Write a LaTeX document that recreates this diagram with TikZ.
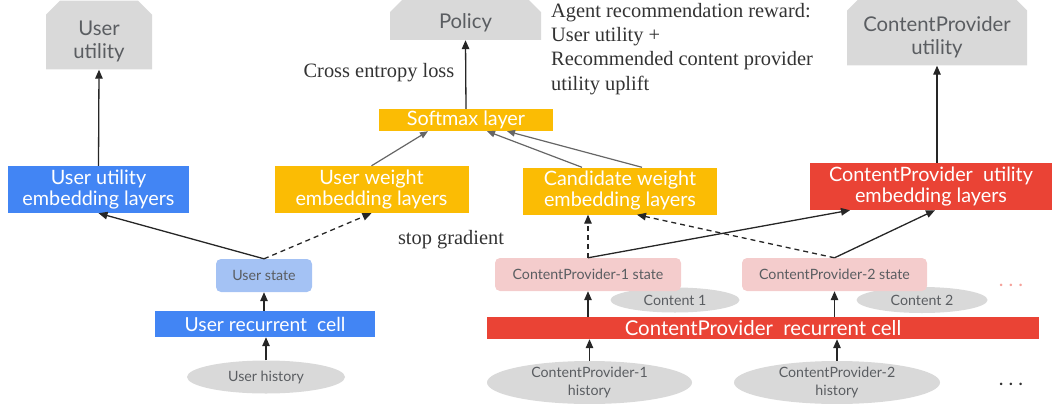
\documentclass[tikz,border=0pt]{standalone}
\usepackage{fontspec}
\setmainfont{Liberation Serif}
\setsansfont{Lato}
\usetikzlibrary{arrows.meta,shapes.geometric,shapes.misc}

\definecolor{boxgray}{HTML}{D9D9D9}
\definecolor{textgray}{HTML}{5A5D61}
\definecolor{gblue}{HTML}{4285F4}
\definecolor{lightblue}{HTML}{A4C2F4}
\definecolor{gyellow}{HTML}{FBBC04}
\definecolor{gred}{HTML}{EA4335}
\definecolor{lightpink}{HTML}{F4CCCC}
\definecolor{notegray}{HTML}{333333}

\tikzset{
	outbox/.style={chamfered rectangle, chamfered rectangle corners={north west,north east},
		chamfered rectangle xsep=6pt, chamfered rectangle ysep=8pt, fill=boxgray, text=textgray,
		inner sep=0pt, align=center, text height=49.5pt, font=\sffamily\fontsize{20.3}{23}\selectfont},
	layer/.style={rectangle, inner sep=0pt, text=white, align=center,
		font=\sffamily\fontsize{19.8}{21}\selectfont},
	statebox/.style={rectangle, rounded corners=5pt, inner sep=0pt, text=textgray,
		font=\sffamily\fontsize{14.2}{17}\selectfont},
	inbox/.style={ellipse, fill=boxgray, inner sep=0pt, text=textgray, align=center,
		font=\sffamily\fontsize{14.2}{17.5}\selectfont},
	note/.style={inner sep=0pt, text=notegray, align=left, font=\fontsize{20.4}{24.3}\selectfont},
	flow/.style={-{Triangle[length=9pt,width=7.5pt]}, line width=1.3pt, black!85},
	stopflow/.style={flow, dash pattern=on 5pt off 4pt},
	mixflow/.style={-{Triangle[length=8pt,width=6.5pt]}, line width=1.2pt, black!60},
}

\begin{document}
\begin{tikzpicture}[x=1pt, y=-1pt]
	%%%%% FRAME %%%%%
	\useasboundingbox (0, 0) rectangle (1055, 407);

	%%%%% OUTPUTS %%%%%
	\node[outbox, minimum width=106pt, minimum height=66pt] (uutil) at (99, 35) {User\\utility};
	\node[outbox, minimum width=151pt, minimum height=34pt, text height=22.5pt] (policy) at (465.5, 19) {Policy};
	\node[outbox, minimum width=180pt, minimum height=58pt] (cputil) at (937, 31) {ContentProvider\\utility};

	\node[note, anchor=north west] (reward) at (551, 3) {Agent recommendation reward:\\User utility +\\Recommended content provider\\utility uplift};
	\node[note] (xent) at (379, 73) {Cross entropy loss};
	\node[note] (stopgrad) at (451, 240) {stop gradient};

	%%%%% LAYERS %%%%%
	\node[layer, fill=gyellow, minimum width=174pt, minimum height=22pt] (softmax) at (466, 120) {Softmax layer};
	\node[layer, fill=gblue, minimum width=181pt, minimum height=47pt] (uemb) at (98.5, 189.5) {User utility\\embedding layers};
	\node[layer, fill=gyellow, minimum width=194pt, minimum height=47pt] (uweight) at (371.5, 189.5) {User weight\\embedding layers};
	\node[layer, fill=gyellow, minimum width=194pt, minimum height=47pt] (cweight) at (620, 191) {Candidate weight\\embedding layers};
	\node[layer, fill=gred, minimum width=242pt, minimum height=47pt] (cpemb) at (931, 186.5) {ContentProvider\ \ utility\\embedding layers};

	%%%%% USER SIDE %%%%%
	\node[statebox, fill=lightblue, minimum width=96pt, minimum height=33pt] (ustate) at (264, 275.5) {User state};
	\node[layer, fill=gblue, minimum width=220pt, minimum height=26pt, font=\sffamily\fontsize{19.3}{23}\selectfont] (ucell) at (265, 324) {User recurrent\ \ cell};
	\node[inbox, minimum width=158pt, minimum height=33pt] (uhist) at (266, 377) {User history};

	%%%%% CONTENT PROVIDER SIDE %%%%%
	\node[inbox, minimum width=129pt, minimum height=25pt] (cont1) at (675, 300) {Content 1};
	\node[inbox, minimum width=131pt, minimum height=26pt] (cont2) at (922, 300) {Content 2};
	\node[statebox, fill=lightpink, minimum width=186pt, minimum height=33pt] (cp1state) at (588, 274.5) {ContentProvider-1 state};
	\node[statebox, fill=lightpink, minimum width=185pt, minimum height=33pt] (cp2state) at (834.5, 274.5) {ContentProvider-2 state};
	\node[layer, fill=gred, minimum width=552pt, minimum height=22pt, font=\sffamily\fontsize{20.4}{23}\selectfont] (cpcell) at (763, 328) {ContentProvider\ \ recurrent cell};
	\node[inbox, minimum width=205pt, minimum height=41pt] (cp1hist) at (589.5, 382.5) {ContentProvider-1\\history};
	\node[inbox, minimum width=206pt, minimum height=41pt] (cp2hist) at (837, 382.5) {ContentProvider-2\\history};
	\node[text=gred!50, font=\sffamily\fontsize{20}{20}\selectfont] (moredots) at (1011, 285) {.\hspace{5pt}.\hspace{5pt}.};
	\node[text=notegray, font=\sffamily\fontsize{20}{20}\selectfont] (histdots) at (1011, 384) {.\hspace{5pt}.\hspace{5pt}.};

	%%%%% CONNECTORS %%%%%
	\draw[flow] (uemb.north) -- (uutil.south);
	\draw[flow] (softmax.north) -- (policy.south);
	\draw[flow] (cputil.south |- cpemb.north) -- (cputil.south);

	\draw[mixflow] (uweight.north) -- ([xshift=-38pt]softmax.south);
	\draw[mixflow] ([xshift=-38pt]cweight.north) -- ([xshift=21pt]softmax.south);
	\draw[mixflow] ([xshift=22pt]cweight.north) -- ([xshift=41pt]softmax.south);

	\draw[flow] (ustate.north) -- (uemb.south);
	\draw[stopflow] (ustate.north) -- (uweight.south);
	\draw[flow] (ustate.south |- ucell.north) -- (ustate.south);
	\draw[flow] (uhist.north) -- (uhist.north |- ucell.south);

	\draw[stopflow] (cp1state.north) -- (cp1state.north |- cweight.south);
	\draw[flow] (cp1state.north) -- ([xshift=-81pt]cpemb.south);
	\draw[stopflow] (cp2state.north) -- ([xshift=17pt]cweight.south);
	\draw[flow] (cp2state.north) -- ([xshift=4pt]cpemb.south);

	\draw[flow] (cp1state.south |- cpcell.north) -- (cp1state.south);
	\draw[flow] (cp2state.south |- cpcell.north) -- (cp2state.south);
	\draw[flow] (cp1hist.north) -- (cp1hist.north |- cpcell.south);
	\draw[flow] (cp2hist.north) -- (cp2hist.north |- cpcell.south);
	%%%%% END %%%%%
\end{tikzpicture}
\end{document}
